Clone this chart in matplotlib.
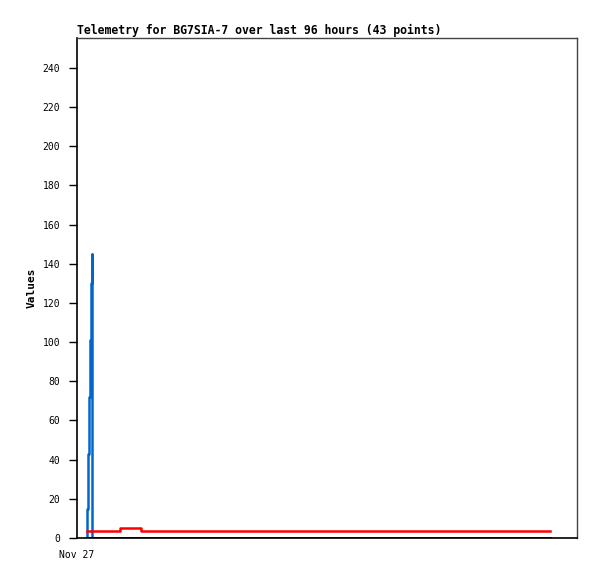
import matplotlib.pyplot as plt

# hours since start of the plotted window (axis spans 0..100)
blue_hours = [1.94, 1.94, 2.2, 2.4, 2.55, 2.75, 3.0, 3.0]
blue_vals = [0, 15, 43, 72, 101, 130, 145, 0]

red_hours = [2.0, 8.6, 12.7, 94.6]
red_vals = [3.7, 4.9, 3.7, 3.7]

black_hours = [2.0, 94.6]
black_vals = [0, 0]

y_ticks = list(range(0, 241, 20))
x_tick_pos = [0]
x_tick_labels = ["Nov 27"]

plt.rcParams["font.family"] = "DejaVu Sans Mono"

fig = plt.figure(figsize=(5.97, 5.79), dpi=100)
ax = fig.add_axes([77 / 597, 41 / 579, 500 / 597, 500 / 579])

ax.plot(blue_hours, blue_vals, drawstyle="steps-post", color="#0066cc", lw=1.8, zorder=2)
ax.plot(red_hours, red_vals, drawstyle="steps-post", color="#ff0000", lw=1.8, zorder=3)
ax.plot(black_hours, black_vals, color="black", lw=2.0, zorder=4)

ax.set_xlim(0, 100)
ax.set_ylim(0, 255.3)
ax.set_yticks(y_ticks)
ax.set_yticklabels([str(v) for v in y_ticks], fontsize=7)
ax.set_xticks(x_tick_pos)
ax.set_xticklabels(x_tick_labels, fontsize=7)
ax.tick_params(axis="y", length=6, width=1, direction="out", pad=6)
ax.tick_params(axis="x", length=0, pad=9)

for side in ["left", "bottom"]:
    ax.spines[side].set_color("black")
    ax.spines[side].set_linewidth(1.2)
for side in ["top", "right"]:
    ax.spines[side].set_color("#444444")
    ax.spines[side].set_linewidth(1.0)

ax.set_ylabel("Values", fontsize=8, fontweight="bold", labelpad=4)
ax.set_title("Telemetry for BG7SIA-7 over last 96 hours (43 points)",
             fontsize=8.3, fontweight="bold", loc="left", pad=3)

fig.savefig("out.png", dpi=100)
